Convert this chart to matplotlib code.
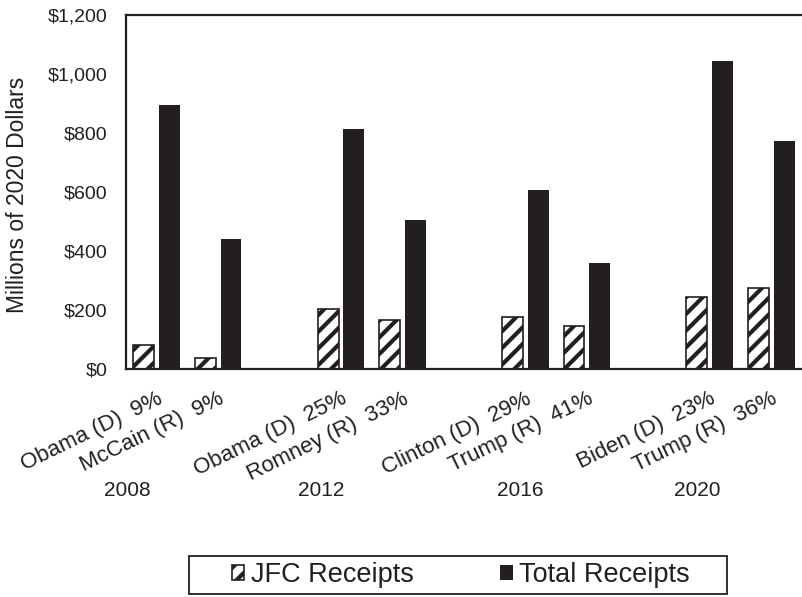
import matplotlib
matplotlib.use("Agg")
from matplotlib import pyplot as plt
from matplotlib.patches import Rectangle
from matplotlib.ticker import FuncFormatter
from matplotlib.transforms import blended_transform_factory
import numpy as np

plt.rcParams["font.family"] = ["Liberation Sans", "DejaVu Sans"]
plt.rcParams["hatch.linewidth"] = 3.0
plt.rcParams["hatch.color"] = "#231f20"

INK = "#231f20"

# candidates, in plotting order (one empty slot between election years)
candidates = ["Obama (D)  9%", "McCain (R)  9%",
              "Obama (D)  25%", "Romney (R)  33%",
              "Clinton (D)  29%", "Trump (R)  41%",
              "Biden (D)  23%", "Trump (R)  36%"]
years = ["2008", "2012", "2016", "2020"]

# millions of 2020 dollars
jfc_receipts = [81, 38, 203, 166, 175, 145, 243, 276]
total_receipts = [896, 442, 815, 506, 608, 358, 1044, 773]

yticks = [0, 200, 400, 600, 800, 1000, 1200]

# slot index of each candidate on the x axis
slots = np.array([0, 1, 3, 4, 6, 7, 9, 10])
year_x = [-0.47, 2.68, 5.91, 8.8]

fig = plt.figure(figsize=(8.02, 5.97), dpi=100)
ax = fig.add_axes([0.157, 0.382, 0.843, 0.593])

w = 0.34
ax.bar(slots - 0.21, jfc_receipts, w, facecolor="white", edgecolor=INK,
       linewidth=1.2, hatch="//", label="JFC Receipts")
ax.bar(slots + 0.21, total_receipts, w, color=INK, label="Total Receipts")

ax.set_xlim(-0.5, 10.5)
ax.set_ylim(0, 1200)
ax.set_yticks(yticks)
ax.yaxis.set_major_formatter(FuncFormatter(lambda v, p: "${:,.0f}".format(v)))
ax.tick_params(axis="y", length=0, pad=13, labelsize=14, labelcolor=INK)

ax.set_xticks(slots)
ax.set_xticklabels(candidates, rotation=26, ha="right", va="top",
                   rotation_mode="anchor", fontsize=16, color=INK)
ax.tick_params(axis="x", length=0, pad=14)

for side in ["left", "top", "bottom"]:
    ax.spines[side].set_color(INK)
    ax.spines[side].set_linewidth(1.6)
ax.spines["right"].set_visible(False)

fig.text(18 / 802, 1 - 195 / 597, "Millions of 2020 Dollars", rotation=90,
         ha="center", va="center", fontsize=16.5, color=INK)

trans = blended_transform_factory(ax.transData, fig.transFigure)
for x, yr in zip(year_x, years):
    fig.text(x, 1 - 491 / 597, yr, transform=trans, ha="center", va="center",
             fontsize=15, color=INK)

# legend box drawn separately, entries sit inside without their own frame
fig.patches.append(Rectangle((189 / 802, 1 - 594 / 597), 538 / 802, 38 / 597,
                             transform=fig.transFigure, fill=False,
                             edgecolor=INK, linewidth=1.3))
leg = fig.legend(loc="center", bbox_to_anchor=(461 / 802, 1 - 575 / 597),
                 ncol=2, fontsize=19.5, frameon=False,
                 handlelength=0.45, handleheight=0.45, handletextpad=0.25,
                 columnspacing=3.2, borderpad=0.2)
for t in leg.get_texts():
    t.set_color(INK)

fig.savefig("out.png", dpi=100)
